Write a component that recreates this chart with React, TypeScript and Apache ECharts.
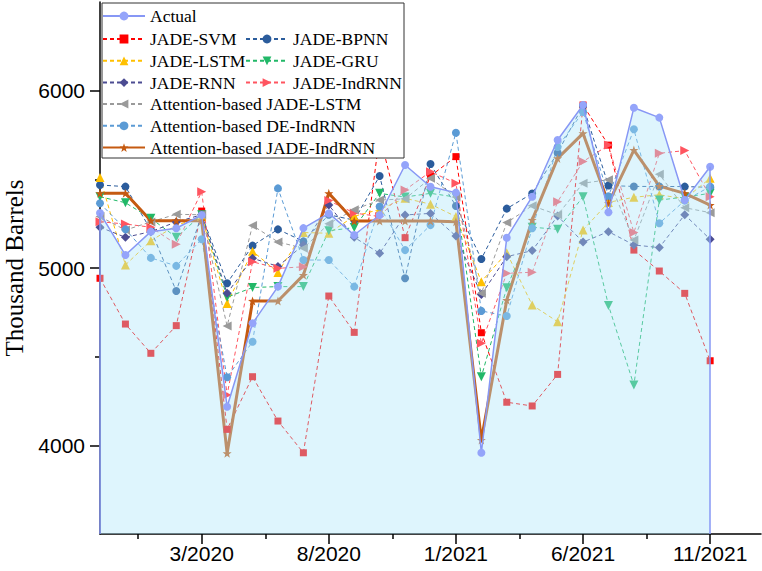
import React, { useEffect, useRef } from 'react';
import * as echarts from 'echarts';

const months = ['11/2019','12/2019','1/2020','2/2020','3/2020','4/2020','5/2020','6/2020','7/2020','8/2020','9/2020','10/2020','11/2020','12/2020','1/2021','2/2021','3/2021','4/2021','5/2021','6/2021','7/2021','8/2021','9/2021','10/2021','11/2021'];
const xLabelIdx = [4, 9, 14, 19, 24];
const xMinorTicks = [1.5, 6.5, 11.5, 16.5, 21.5];
const yLabels = [4000, 5000, 6000];
const yMinorTicks = [4500, 5500];

const actual = [5310, 5073, 5205, 5224, 5299, 4218, 4688, 4895, 5225, 5308, 5186, 5299, 5581, 5458, 5425, 3958, 5171, 5402, 5722, 5919, 5314, 5904, 5848, 5383, 5571];
const jadeSvm = [4942, 4684, 4519, 4675, 5321, 4090, 4387, 4137, 3958, 4842, 4637, 5750, 5171, 5519, 5628, 4635, 4243, 4222, 4400, 5919, 5693, 5101, 4983, 4857, 4477];
const jadeBpnn = [5468, 5459, 5214, 4870, 5300, 4914, 5126, 5218, 5150, 5300, 5270, 5519, 4942, 5586, 5350, 5051, 5335, 5420, 5650, 5915, 5465, 5460, 5460, 5459, 5455];
const jadeLstm = [5510, 5017, 5154, 5240, 5290, 4800, 5095, 4975, 5200, 5196, 5292, 5330, 5393, 5360, 5290, 4923, 5086, 4791, 4697, 5214, 5370, 5399, 5413, 5390, 5506];
const jadeGru = [5402, 5368, 5280, 5173, 5300, 4835, 4890, 4895, 4895, 5210, 5228, 5421, 5400, 5421, 5400, 4387, 4889, 5230, 5218, 5402, 4789, 4340, 5383, 5400, 5421];
const jadeRnn = [5230, 5173, 5205, 5260, 5300, 4857, 5055, 5009, 5130, 5355, 5173, 5083, 5299, 5308, 5180, 4850, 5064, 5098, 5293, 5146, 5205, 5130, 5115, 5300, 5162];
const jadeIndrnn = [5261, 5248, 5230, 5134, 5430, 4284, 5035, 4998, 5007, 5380, 5310, 5290, 5440, 5543, 5478, 4575, 4970, 4976, 5374, 5600, 5693, 5200, 5647, 5662, 5402];
const attJadeLstm = [5290, 5214, 5260, 5303, 5300, 4673, 5240, 5147, 5111, 5250, 5329, 5383, 5390, 5506, 5400, 4857, 5256, 5351, 5300, 5478, 5498, 5158, 5528, 5340, 5312];
const attDeIndrnn = [5365, 5218, 5057, 5012, 5162, 4384, 4584, 5449, 5045, 5045, 4895, 5347, 5101, 5242, 5763, 4758, 4729, 5224, 5682, 5880, 5405, 5782, 5252, 5380, 5459];
const attJadeIndrnn = [5421, 5421, 5267, 5267, 5267, 3955, 4814, 4814, 4960, 5421, 5265, 5265, 5265, 5265, 5261, 4030, 4819, 5271, 5618, 5759, 5365, 5665, 5462, 5421, 5355];

const STAR = 'path://M0,-10L2.35,-3.24L9.51,-3.09L3.8,1.24L5.88,8.09L0,4L-5.88,8.09L-3.8,1.24L-9.51,-3.09L-2.35,-3.24Z';

const toPairs = (vals: number[]) => vals.map((v, i) => [i, v]);

type Def = { name: string; data: number[]; color: string; symbol: string; rotate?: number; size: number; width?: number; solid?: boolean };

const defs: Def[] = [
  { name: 'JADE-SVM', data: jadeSvm, color: '#ff0000', symbol: 'rect', size: 7 },
  { name: 'JADE-BPNN', data: jadeBpnn, color: '#2b5c9c', symbol: 'circle', size: 8 },
  { name: 'JADE-LSTM', data: jadeLstm, color: '#ffc000', symbol: 'triangle', size: 9 },
  { name: 'JADE-GRU', data: jadeGru, color: '#22b868', symbol: 'triangle', rotate: 180, size: 9 },
  { name: 'JADE-RNN', data: jadeRnn, color: '#4c4c92', symbol: 'diamond', size: 9 },
  { name: 'JADE-IndRNN', data: jadeIndrnn, color: '#ff5560', symbol: 'triangle', rotate: -90, size: 9 },
  { name: 'Attention-based JADE-LSTM', data: attJadeLstm, color: '#9a9a9a', symbol: 'triangle', rotate: 90, size: 9 },
  { name: 'Attention-based DE-IndRNN', data: attDeIndrnn, color: '#5b9bd5', symbol: 'circle', size: 8 },
  { name: 'Attention-based JADE-IndRNN', data: attJadeIndrnn, color: '#c55a11', symbol: STAR, size: 9, width: 3, solid: true },
];

const ACTUAL_COLOR = '#8797f5';

export default function App() {
  const ref = useRef<HTMLDivElement>(null);
  useEffect(() => {
    if (!ref.current) return;
    const chart = echarts.init(ref.current, undefined, { renderer: 'svg' });
    const series: any[] = defs.map((d) => ({
      name: d.name,
      type: 'line',
      data: toPairs(d.data),
      symbol: d.symbol,
      symbolSize: d.size,
      symbolRotate: d.rotate || 0,
      z: 2,
      itemStyle: { color: d.color },
      lineStyle: { color: d.color, width: d.width || 1, type: d.solid ? 'solid' : [4, 3] },
    }));
    series.push({
      name: 'Actual',
      type: 'line',
      data: toPairs(actual),
      symbol: 'circle',
      symbolSize: 8,
      z: 3,
      itemStyle: { color: '#94a4fa' },
      lineStyle: { color: ACTUAL_COLOR, width: 1.5 },
      areaStyle: { color: 'rgba(172,230,250,0.56)', origin: 'start' },
      markLine: {
        silent: true,
        symbol: ['none', 'none'],
        label: { show: false },
        lineStyle: { color: ACTUAL_COLOR, width: 1.5, type: 'solid' },
        data: [
          [{ coord: [0, 3500] }, { coord: [0, actual[0]] }],
          [{ coord: [actual.length - 1, 3500] }, { coord: [actual.length - 1, actual[actual.length - 1]] }],
        ],
      },
    });

    const legendBase = {
      orient: 'vertical',
      padding: 0,
      itemWidth: 42,
      itemHeight: 11,
      itemGap: 3.8,
      selectedMode: false,
      z: 100,
      textStyle: { fontFamily: 'Liberation Serif', fontSize: 17.5, color: '#000', lineHeight: 18 },
    };

    const axisFont = { fontFamily: 'Liberation Sans, Arial', fontSize: 21, color: '#000' };

    chart.setOption({
      animation: false,
      grid: { left: 100, right: 1, top: 2, bottom: 37, containLabel: false, outerBoundsMode: 'none' },
      legend: [
        { ...legendBase, left: 102, top: 7, data: ['Actual'] },
        { ...legendBase, left: 102, top: 30, data: ['JADE-SVM', 'JADE-LSTM', 'JADE-RNN'] },
        { ...legendBase, left: 245, top: 30, data: ['JADE-BPNN', 'JADE-GRU', 'JADE-IndRNN'] },
        { ...legendBase, left: 102, top: 95, data: ['Attention-based JADE-LSTM', 'Attention-based DE-IndRNN', 'Attention-based JADE-IndRNN'] },
      ],
      graphic: [
        { type: 'rect', z: 50, shape: { x: 102, y: 3, width: 302, height: 155 }, style: { fill: '#fff', stroke: '#333', lineWidth: 1 } },
      ],
      xAxis: [
        {
          type: 'value', min: 0, max: 26,
          axisLine: { lineStyle: { color: '#000', width: 1.5 } },
          axisTick: { show: true, length: 10, lineStyle: { color: '#000', width: 1.5 }, customValues: xLabelIdx },
          axisLabel: { ...axisFont, margin: 9, customValues: xLabelIdx, formatter: (v: number) => months[Math.round(v)] || '' },
          splitLine: { show: false },
        },
        {
          type: 'value', min: 0, max: 26, position: 'bottom',
          axisLine: { show: false },
          axisTick: { show: true, length: 5, lineStyle: { color: '#000', width: 1.5 }, customValues: xMinorTicks },
          axisLabel: { show: false },
          splitLine: { show: false },
        },
      ],
      yAxis: [
        {
          type: 'value', min: 3500, max: 6500,
          name: 'Thousand Barrels', nameLocation: 'middle', nameGap: 71,
          nameTextStyle: { fontFamily: 'Liberation Serif', fontSize: 25, color: '#000' },
          axisLine: { show: true, lineStyle: { color: '#000', width: 1.5 } },
          axisTick: { show: true, length: 10, lineStyle: { color: '#000', width: 1.5 }, customValues: yLabels },
          axisLabel: { ...axisFont, margin: 15, customValues: yLabels, formatter: (v: number) => String(v) },
          splitLine: { show: false },
        },
        {
          type: 'value', min: 3500, max: 6500, position: 'left',
          axisLine: { show: false },
          axisTick: { show: true, length: 5, lineStyle: { color: '#000', width: 1.5 }, customValues: yMinorTicks },
          axisLabel: { show: false },
          splitLine: { show: false },
        },
      ],
      series,
    });
    return () => chart.dispose();
  }, []);
  return <div ref={ref} style={{ position: 'fixed', left: 0, top: 0, width: 762, height: 571, background: '#fff' }} />;
}
